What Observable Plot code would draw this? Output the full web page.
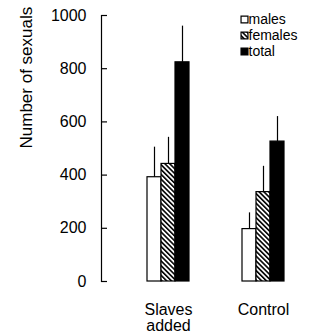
<!DOCTYPE html>
<html>
<head>
<meta charset="utf-8">
<script src="https://cdn.jsdelivr.net/npm/d3@7"></script>
<script src="https://cdn.jsdelivr.net/npm/@observablehq/plot@0.6"></script>
<style>
  html, body { margin: 0; padding: 0; background: #fff; }
  #chart { width: 324px; height: 335px; }
</style>
</head>
<body>
<div id="chart"></div>
<script>
const groups = ["Slaves added", "Control"];
const groupLabels = ["Slaves\nadded", "Control"];
const series = ["males", "females", "total"];
const slavesValues = [392, 442, 824];
const slavesUpper = [505, 542, 960];
const controlValues = [197, 336, 526];
const controlUpper = [258, 433, 620];
const yTicks = [0, 200, 400, 600, 800, 1000];
const yLabel = "Number of sexuals";

const fills = ["white", "url(#hatch)", "black"];
const values = [slavesValues, controlValues];
const uppers = [slavesUpper, controlUpper];

const rows = groups.flatMap((g, gi) => series.map((s, si) => ({
  group: g, sex: s, value: values[gi][si], upper: uppers[gi][si]
})));

const font = "'Liberation Sans', Arial, Helvetica, sans-serif";

const legendMarks = series.flatMap((s, i) => [
  Plot.dot([s], {
    fx: () => groups[1], frameAnchor: "top-left", dx: 48, dy: 4 + 16 * i,
    symbol: "square", r: 3.9, fill: fills[i], stroke: "black", strokeWidth: 1.2
  }),
  Plot.text([s], {
    fx: () => groups[1], frameAnchor: "top-left", dx: 52, dy: 4 + 16 * i,
    text: d => d, textAnchor: "start", lineAnchor: "middle", fontSize: 14,
    letterSpacing: 1.1, fill: "black"
  })
]);

const chart = Plot.plot({
  width: 324,
  height: 335,
  marginLeft: 101,
  marginRight: 33,
  marginTop: 15,
  marginBottom: 54,
  style: { background: "white", color: "black", fontFamily: font, overflow: "visible" },
  fx: { domain: groups, padding: 0, axis: null },
  x: { domain: series, paddingInner: 0, paddingOuter: 1.7386, align: 0.8627, axis: null },
  y: { domain: [0, 1000] },
  marks: [
    Plot.frame({ anchor: "left", facetAnchor: "left", stroke: "black", strokeWidth: 1.2 }),
    Plot.axisY({ ticks: yTicks, tickSize: -6, tickPadding: 21, tickFormat: d => String(d),
      fontSize: 16, label: null, stroke: "black", strokeWidth: 1.2 }),
    Plot.barY(rows, { fx: "group", x: "sex", y: "value",
      fill: d => d.sex, stroke: "black", strokeWidth: 1.2 }),
    Plot.ruleX(rows, { fx: "group", x: "sex", y1: "value", y2: "upper", stroke: "black", strokeWidth: 1.2 }),
    Plot.text(groups, { fx: d => d, x: () => "females", text: (d, i) => groupLabels[i],
      frameAnchor: "bottom", lineAnchor: "top", dy: 22, fontSize: 16, lineHeight: 1.0,
      letterSpacing: 0.3, fill: "black" }),
    Plot.text([yLabel], { fx: () => groups[0], frameAnchor: "left", rotate: -90, dx: -75,
      text: d => d, fontSize: 17, fill: "black" }),
    ...legendMarks
  ],
  color: { domain: series, range: fills }
});

const ns = "http://www.w3.org/2000/svg";
const defs = document.createElementNS(ns, "defs");
defs.innerHTML = '<pattern id="hatch" patternUnits="userSpaceOnUse" width="3.4" height="3.4" patternTransform="rotate(-45)">' +
  '<rect width="3.4" height="3.4" fill="white"/>' +
  '<line x1="0.8" y1="-1" x2="0.8" y2="5" stroke="black" stroke-width="1.6"/></pattern>';
chart.insertBefore(defs, chart.firstChild);
document.getElementById("chart").appendChild(chart);
</script>
</body>
</html>
